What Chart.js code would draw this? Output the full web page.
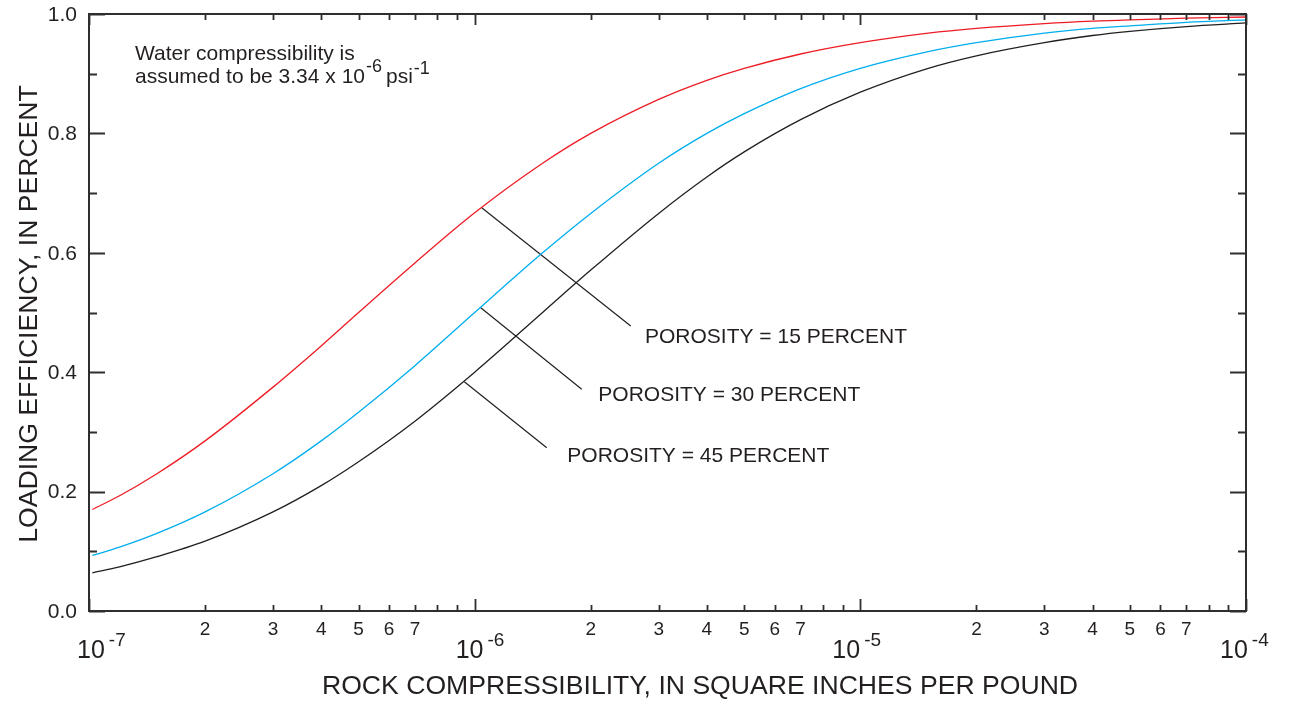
<!DOCTYPE html>
<html>
<head>
<meta charset="utf-8">
<title>Loading efficiency vs rock compressibility</title>
<script src="https://cdn.jsdelivr.net/npm/chart.js@4/dist/chart.umd.min.js"></script>
<style>
  html, body { margin: 0; padding: 0; background: #fff; }
  #chart { display: block; }
</style>
</head>
<body>
<canvas id="chart" width="1289" height="702"></canvas>
<script>
// Rock compressibility, in square inches per pound (log axis)
const compressibility = [1.02e-7, 1.2e-7, 1.5e-7, 2e-7, 3e-7, 4e-7, 5e-7, 7e-7,
                         1e-6, 1.5e-6, 2e-6, 3e-6, 4e-6, 5e-6, 7e-6,
                         1e-5, 1.5e-5, 2e-5, 3e-5, 4e-5, 5e-5, 7e-5, 1e-4];

// Loading efficiency for each porosity
const porosity15 = [0.17, 0.193, 0.23, 0.285, 0.375, 0.444, 0.50, 0.583,
                    0.667, 0.75, 0.80, 0.857, 0.889, 0.909, 0.933,
                    0.952, 0.968, 0.976, 0.984, 0.988, 0.99, 0.993, 0.995];
const porosity30 = [0.093, 0.107, 0.13, 0.166, 0.23, 0.285, 0.333, 0.411,
                    0.50, 0.60, 0.666, 0.75, 0.80, 0.833, 0.875,
                    0.909, 0.937, 0.952, 0.968, 0.976, 0.98, 0.986, 0.99];
const porosity45 = [0.064, 0.074, 0.091, 0.117, 0.166, 0.21, 0.25, 0.318,
                    0.40, 0.50, 0.571, 0.666, 0.727, 0.769, 0.823,
                    0.869, 0.909, 0.93, 0.952, 0.964, 0.971, 0.979, 0.985];

const seriesLabels = ['POROSITY = 15 PERCENT', 'POROSITY = 30 PERCENT', 'POROSITY = 45 PERCENT'];

// axis ticks
const decades = [1e-7, 1e-6, 1e-5, 1e-4];
const decadeExponents = ['-7', '-6', '-5', '-4'];
const minorSteps = [2, 3, 4, 5, 6, 7, 8, 9];
const minorLabels = ['2', '3', '4', '5', '6', '7', '', ''];
const yTicks = [0, 0.1, 0.2, 0.3, 0.4, 0.5, 0.6, 0.7, 0.8, 0.9, 1.0];
const yTickLabels = ['0.0', '', '0.2', '', '0.4', '', '0.6', '', '0.8', '', '1.0'];

// callout leaders: from a point on the curve out to the label
const callouts = [
  { from: [1.043e-6, 0.6755], to: [2.539e-6, 0.4774], text: [2.765e-6, 0.461] },
  { from: [1.037e-6, 0.508],  to: [1.895e-6, 0.3714], text: [2.092e-6, 0.3635] },
  { from: [9.40e-7, 0.3841],  to: [1.538e-6, 0.2735], text: [1.739e-6, 0.2608] }
];

const INK = '#231f20';
const FONT = '"Liberation Sans", Arial, Helvetica, sans-serif';

const toPoints = (xs, ys) => xs.map((x, i) => ({ x: x, y: ys[i] }));

const curve = (label, ys, color) => ({
  label: label,
  data: toPoints(compressibility, ys),
  borderColor: color,
  borderWidth: 1.3,
  pointRadius: 0,
  cubicInterpolationMode: 'monotone',
  fill: false
});

const leader = (c) => ({
  data: [{ x: c.from[0], y: c.from[1] }, { x: c.to[0], y: c.to[1] }],
  borderColor: INK,
  borderWidth: 1.2,
  pointRadius: 0,
  tension: 0,
  fill: false
});

// frame, inward ticks, tick labels, titles and notes
const axesPlugin = {
  id: 'axesPlugin',
  afterDraw(chart) {
    const { ctx, chartArea: a, scales: { x, y } } = chart;
    ctx.save();
    ctx.strokeStyle = '#2e2e2e';
    ctx.fillStyle = INK;

    // inward ticks on all four sides
    ctx.lineWidth = 1.8;
    ctx.beginPath();
    yTicks.forEach((v, i) => {
      const py = Math.round(y.getPixelForValue(v)) + 0.5;
      const len = yTickLabels[i] ? 16 : 8;
      ctx.moveTo(a.left, py); ctx.lineTo(a.left + len, py);
      ctx.moveTo(a.right, py); ctx.lineTo(a.right - len, py);
    });
    decades.forEach((d, k) => {
      const px = Math.round(x.getPixelForValue(d)) + 0.5;
      ctx.moveTo(px, a.bottom); ctx.lineTo(px, a.bottom - 12);
      ctx.moveTo(px, a.top); ctx.lineTo(px, a.top + 11);
      if (k === decades.length - 1) return;
      minorSteps.forEach(m => {
        const mx = Math.round(x.getPixelForValue(d * m)) + 0.5;
        ctx.moveTo(mx, a.bottom); ctx.lineTo(mx, a.bottom - 6);
        ctx.moveTo(mx, a.top); ctx.lineTo(mx, a.top + 6);
      });
    });
    ctx.stroke();

    // frame
    ctx.lineWidth = 2;
    ctx.strokeRect(a.left, a.top, a.right - a.left, a.bottom - a.top);

    // y tick labels
    ctx.font = '21px ' + FONT;
    ctx.textAlign = 'right';
    ctx.textBaseline = 'middle';
    yTicks.forEach((v, i) => {
      if (yTickLabels[i]) ctx.fillText(yTickLabels[i], a.left - 12, y.getPixelForValue(v) + 1);
    });

    // x minor labels
    ctx.font = '19px ' + FONT;
    ctx.textAlign = 'center';
    ctx.textBaseline = 'alphabetic';
    decades.slice(0, -1).forEach(d => {
      minorSteps.forEach((m, j) => {
        if (minorLabels[j]) ctx.fillText(minorLabels[j], x.getPixelForValue(d * m), a.bottom + 24);
      });
    });

    // decade labels with superscript exponent
    const nudge = [-12, -19, -28, -26];
    ctx.textAlign = 'left';
    decades.forEach((d, k) => {
      const px = x.getPixelForValue(d) + nudge[k];
      ctx.font = '25px ' + FONT;
      ctx.fillText('10', px, a.bottom + 47);
      const w = ctx.measureText('10').width;
      ctx.font = '19px ' + FONT;
      ctx.fillText(decadeExponents[k], px + w + 4, a.bottom + 35);
    });

    // axis titles
    ctx.font = '26.6px ' + FONT;
    ctx.textAlign = 'center';
    ctx.fillText('ROCK COMPRESSIBILITY, IN SQUARE INCHES PER POUND', 700, 694);
    ctx.save();
    ctx.translate(30, 314);
    ctx.rotate(-Math.PI / 2);
    ctx.textBaseline = 'middle';
    ctx.fillText('LOADING EFFICIENCY, IN PERCENT', 0, 0);
    ctx.restore();

    // water compressibility note
    const nx = a.left + 46;
    ctx.textAlign = 'left';
    ctx.textBaseline = 'alphabetic';
    ctx.font = '21px ' + FONT;
    ctx.fillText('Water compressibility is', nx, a.top + 46);
    let cx = nx;
    const line2 = 'assumed to be 3.34 x 10';
    ctx.fillText(line2, cx, a.top + 69);
    cx += ctx.measureText(line2).width + 1;
    ctx.font = '18px ' + FONT;
    ctx.fillText('-6', cx, a.top + 58);
    cx += ctx.measureText('-6').width + 4;
    ctx.font = '21px ' + FONT;
    ctx.fillText('psi', cx, a.top + 69);
    cx += ctx.measureText('psi').width + 1;
    ctx.font = '18px ' + FONT;
    ctx.fillText('-1', cx, a.top + 60);

    // porosity labels
    ctx.font = '21px ' + FONT;
    ctx.textBaseline = 'middle';
    callouts.forEach((c, i) => {
      ctx.fillText(seriesLabels[i], x.getPixelForValue(c.text[0]), y.getPixelForValue(c.text[1]) + 1);
    });
    ctx.restore();
  }
};

new Chart(document.getElementById('chart'), {
  type: 'line',
  data: {
    datasets: [
      curve(seriesLabels[0], porosity15, '#ed1c24'),
      curve(seriesLabels[1], porosity30, '#00aeef'),
      curve(seriesLabels[2], porosity45, INK),
      ...callouts.map(leader)
    ]
  },
  options: {
    responsive: false,
    devicePixelRatio: 1,
    animation: false,
    layout: { padding: { left: 89, top: 14, right: 43, bottom: 91 } },
    plugins: { legend: { display: false }, tooltip: { enabled: false } },
    scales: {
      x: { type: 'logarithmic', min: 1e-7, max: 1e-4, display: false },
      y: { type: 'linear', min: 0, max: 1, display: false }
    }
  },
  plugins: [axesPlugin]
});
</script>
</body>
</html>
